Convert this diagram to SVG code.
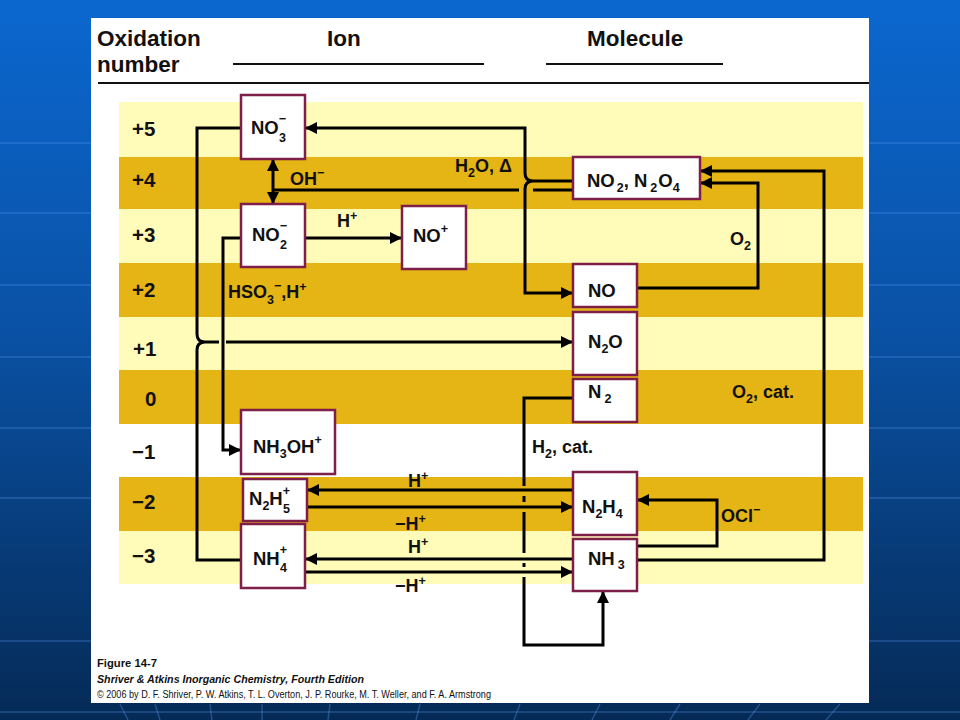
<svg xmlns="http://www.w3.org/2000/svg" width="960" height="720" viewBox="0 0 960 720">
<defs>
<linearGradient id="bg" x1="0" y1="0" x2="0" y2="1">
<stop offset="0" stop-color="#0b67cf"/>
<stop offset="0.45" stop-color="#0a52a6"/>
<stop offset="1" stop-color="#052a56"/>
</linearGradient>
<marker id="ah" markerUnits="userSpaceOnUse" markerWidth="13" markerHeight="12" refX="12" refY="6" orient="auto-start-reverse">
<path d="M0,0 L12,6 L0,12 z" fill="#000"/>
</marker>
</defs>
<style>
.t{font-family:"Liberation Sans","DejaVu Sans",sans-serif;font-weight:bold;fill:#111}
.ox{font-size:20.5px}
.hd{font-size:22.5px}
.nd{font-size:18.5px}
.lb{font-size:18px}
.sb{font-size:12.5px}
.node rect{fill:#fff;stroke:#7e1f4a;stroke-width:2.5}
.c{fill:none;stroke:#000;stroke-width:3}
.light{fill:#fffbb8}
.dark{fill:#e5b415}
.cap{font-family:"Liberation Sans",sans-serif;font-size:11.5px;fill:#111}
.grid{stroke:#5a9af0;stroke-opacity:0.35;stroke-width:1.5;fill:none}
</style>
<rect x="0" y="0" width="960" height="720" fill="url(#bg)"/>
<g class="grid">
<path d="M0,143 H960 M0,213 H960 M0,285 H960 M0,357 H960 M0,428 H960 M0,498 H960 M0,641 H960 M0,712 H960"/>
<path d="M120,704 L128,720 M155,704 L160,720 M210,704 L212,720 M262,704 L262,720 M330,704 L328,720 M420,704 L416,720 M520,704 L514,720 M600,704 L592,720 M680,704 L670,720 M760,704 L748,720 M840,704 L826,720"/>
</g>
<rect x="91" y="18" width="778" height="685" fill="#fff"/>
<g id="header">
<text class="t hd" x="97" y="46">Oxidation</text>
<text class="t hd" x="97" y="72">number</text>
<text class="t hd" x="327" y="46">Ion</text>
<text class="t hd" x="587" y="46">Molecule</text>
<path d="M233,64 H484 M546,64 H723" stroke="#111" stroke-width="1.8"/>
<path d="M98,83 H869" stroke="#111" stroke-width="2"/>
</g>
<g id="bands">
<rect class="light" x="119" y="102" width="744" height="55"/>
<rect class="dark" x="119" y="157" width="744" height="52"/>
<rect class="light" x="119" y="209" width="744" height="54"/>
<rect class="dark" x="119" y="263" width="744" height="54"/>
<rect class="light" x="119" y="317" width="744" height="53"/>
<rect class="dark" x="119" y="370" width="744" height="54"/>
<rect class="dark" x="119" y="477" width="744" height="54"/>
<rect class="light" x="119" y="531" width="744" height="53"/>
</g>
<g id="oxnums">
<text class="t ox" x="132" y="136">+5</text>
<text class="t ox" x="132" y="187">+4</text>
<text class="t ox" x="132" y="242">+3</text>
<text class="t ox" x="132" y="297">+2</text>
<text class="t ox" x="133" y="356">+1</text>
<text class="t ox" x="145" y="406">0</text>
<text class="t ox" x="132" y="459">−1</text>
<text class="t ox" x="132" y="509">−2</text>
<text class="t ox" x="132" y="563">−3</text>
</g>
<g id="connectors">
<path class="c" d="M241,128 H197 V334 Q197,342 205,342 Q197,342 197,350 V560 H241"/>
<path class="c" d="M205,342 H219"/>
<path class="c" d="M226,342 H573" marker-end="url(#ah)"/>
<path class="c" d="M241,238 H223 V450 H241" marker-end="url(#ah)"/>
<path class="c" d="M273,159 V204" marker-start="url(#ah)" marker-end="url(#ah)"/>
<path class="c" d="M273,190 H519"/>
<path class="c" d="M533,190 H573" stroke-width="2"/>
<path class="c" d="M305,128 H525 V173 Q525,181 533,181 Q525,181 525,189 V293 H573" marker-start="url(#ah)" marker-end="url(#ah)"/>
<path class="c" d="M533,181 H573"/>
<path class="c" d="M305,238 H402" marker-end="url(#ah)"/>
<path class="c" d="M637,288 H758 V183 H700" marker-end="url(#ah)"/>
<path class="c" d="M637,560 H824 V171 H700" marker-end="url(#ah)"/>
<path class="c" d="M637,546 H717 V500 H637" marker-end="url(#ah)"/>
<path class="c" d="M573,398 H524 V486 M524,496 V502 M524,512 V553 M524,563 V567 M524,577 V645 H603 V591" marker-end="url(#ah)"/>
<path class="c" d="M573,490 H307" marker-end="url(#ah)"/>
<path class="c" d="M307,507 H573" marker-end="url(#ah)"/>
<path class="c" d="M573,559 H305" marker-end="url(#ah)"/>
<path class="c" d="M305,572 H573" marker-end="url(#ah)"/>
</g>
<g id="labels">
<text class="t lb" x="290" y="185">OH<tspan class="sb" dy="-8">−</tspan></text>
<text class="t lb" x="337" y="227">H<tspan class="sb" dy="-7">+</tspan></text>
<text class="t lb" x="455" y="172">H<tspan class="sb" dy="5">2</tspan><tspan dy="-5">O, Δ</tspan></text>
<text class="t lb" x="228" y="298">HSO<tspan class="sb" dy="6">3</tspan><tspan class="sb" dy="-14">−</tspan><tspan dy="8">,H</tspan><tspan class="sb" dy="-7">+</tspan></text>
<text class="t lb" x="730" y="245">O<tspan class="sb" dy="5">2</tspan></text>
<text class="t lb" x="732" y="398">O<tspan class="sb" dy="5">2</tspan><tspan dy="-5">, cat.</tspan></text>
<text class="t lb" x="532" y="453">H<tspan class="sb" dy="5">2</tspan><tspan dy="-5">, cat.</tspan></text>
<text class="t lb" x="408" y="487">H<tspan class="sb" dy="-7">+</tspan></text>
<text class="t lb" x="395" y="530">−H<tspan class="sb" dy="-7">+</tspan></text>
<text class="t lb" x="408" y="553">H<tspan class="sb" dy="-7">+</tspan></text>
<text class="t lb" x="395" y="592">−H<tspan class="sb" dy="-7">+</tspan></text>
<text class="t lb" x="721" y="522">OCl<tspan class="sb" dy="-8">−</tspan></text>
</g>
<g id="n-no3" class="node"><rect x="241" y="95" width="64" height="64"/><text class="t nd" x="251" y="134">NO<tspan class="sb" dy="-11">−</tspan><tspan class="sb" dx="-7" dy="19">3</tspan></text></g>
<g id="n-no2m" class="node"><rect x="241" y="204" width="64" height="63"/><text class="t nd" x="252" y="241">NO<tspan class="sb" dy="-11">−</tspan><tspan class="sb" dx="-7" dy="19">2</tspan></text></g>
<g id="n-noplus" class="node"><rect x="402" y="206" width="64" height="63"/><text class="t nd" x="413" y="242">NO<tspan class="sb" dy="-9">+</tspan></text></g>
<g id="n-no2n2o4" class="node"><rect x="573" y="157" width="127" height="42"/><text class="t nd" x="587" y="187">NO<tspan class="sb" dx="2" dy="5">2</tspan><tspan dy="-5">, N</tspan><tspan class="sb" dx="3" dy="5">2</tspan><tspan dx="1" dy="-5">O</tspan><tspan class="sb" dy="5">4</tspan></text></g>
<g id="n-no" class="node"><rect x="573" y="264" width="64" height="43"/><text class="t nd" x="588" y="297">NO</text></g>
<g id="n-n2o" class="node"><rect x="573" y="312" width="64" height="63"/><text class="t nd" x="588" y="348">N<tspan class="sb" dy="5">2</tspan><tspan dy="-5">O</tspan></text></g>
<g id="n-n2" class="node"><rect x="573" y="379" width="64" height="43"/><text class="t nd" x="588" y="398">N<tspan class="sb" dx="3" dy="5">2</tspan></text></g>
<g id="n-nh3oh" class="node"><rect x="241" y="410" width="94" height="64"/><text class="t nd" x="253" y="453">NH<tspan class="sb" dy="5">3</tspan><tspan dy="-5">OH</tspan><tspan class="sb" dy="-9">+</tspan></text></g>
<g id="n-n2h5" class="node"><rect x="243" y="479" width="64" height="42"/><text class="t nd" x="249" y="505">N<tspan class="sb" dy="5">2</tspan><tspan dy="-5">H</tspan><tspan class="sb" dy="-10">+</tspan><tspan class="sb" dx="-7" dy="18">5</tspan></text></g>
<g id="n-nh4" class="node"><rect x="241" y="524" width="64" height="64"/><text class="t nd" x="253" y="565">NH<tspan class="sb" dy="-11">+</tspan><tspan class="sb" dx="-7" dy="18">4</tspan></text></g>
<g id="n-n2h4" class="node"><rect x="573" y="472" width="64" height="63"/><text class="t nd" x="582" y="513">N<tspan class="sb" dy="5">2</tspan><tspan dy="-5">H</tspan><tspan class="sb" dy="5">4</tspan></text></g>
<g id="n-nh3" class="node"><rect x="573" y="539" width="64" height="52"/><text class="t nd" x="588" y="565">NH<tspan class="sb" dx="3" dy="4">3</tspan></text></g>
<g id="caption">
<text class="cap" x="97" y="667" font-weight="bold" textLength="60" lengthAdjust="spacingAndGlyphs">Figure 14-7</text>
<text class="cap" x="97" y="683" font-weight="bold" font-style="italic" textLength="267" lengthAdjust="spacingAndGlyphs">Shriver &amp; Atkins Inorganic Chemistry, Fourth Edition</text>
<text class="cap" x="97" y="698" textLength="394" lengthAdjust="spacingAndGlyphs">© 2006 by D. F. Shriver, P. W. Atkins, T. L. Overton, J. P. Rourke, M. T. Weller, and F. A. Armstrong</text>
</g>
</svg>
